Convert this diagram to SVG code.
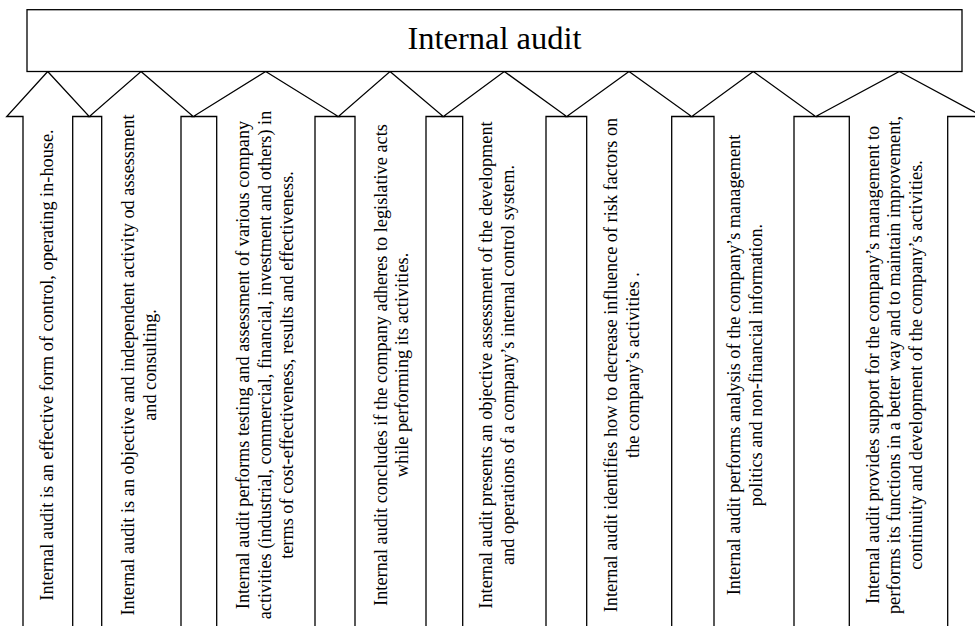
<svg xmlns="http://www.w3.org/2000/svg" width="975" height="626" viewBox="0 0 975 626">
<style>
.shape{fill:#fff;stroke:#000;stroke-width:1.3;stroke-linejoin:miter}
.t{font-family:"Liberation Serif","Times New Roman",serif;font-size:18.3px;fill:#000;text-anchor:middle}
.title{font-family:"Liberation Serif","Times New Roman",serif;font-size:32.5px;fill:#000;text-anchor:middle}
</style>
<rect width="975" height="626" fill="#fff"/>
<g id="arrow1">
<polygon class="shape" points="47.7,71.5 89.3,116.5 72.7,116.5 72.7,640 23,640 23,116.5 6.7,116.5"/>
<text class="t" transform="translate(53,365) rotate(-90)">Internal audit is an effective form of control, operating in-house.</text>
</g>
<g id="arrow2">
<polygon class="shape" points="141,71.5 193.3,116.5 181,116.5 181,640 101.7,640 101.7,116.5 89.3,116.5"/>
<text class="t" transform="translate(134,365) rotate(-90)"><tspan x="0" y="0">Internal audit is an objective and independent activity od assessment</tspan><tspan x="0" y="22">and consulting.</tspan></text>
</g>
<g id="arrow3">
<polygon class="shape" points="265.7,71.5 338.3,116.5 315,116.5 315,640 216.7,640 216.7,116.5 193.3,116.5"/>
<text class="t" transform="translate(248.5,365) rotate(-90)"><tspan x="0" y="0">Internal audit performs testing and assessment of various company</tspan><tspan x="0" y="22">activities (industrial, commercial, financial, investment and others) in</tspan><tspan x="0" y="44">terms of cost-effectiveness, results and effectiveness.</tspan></text>
</g>
<g id="arrow4">
<polygon class="shape" points="390,71.5 443.3,116.5 426,116.5 426,640 355,640 355,116.5 338.3,116.5"/>
<text class="t" transform="translate(386.5,365) rotate(-90)"><tspan x="0" y="0">Internal audit concludes if the company adheres to legislative acts</tspan><tspan x="0" y="21.5">while performing its activities.</tspan></text>
</g>
<g id="arrow5">
<polygon class="shape" points="504.3,71.5 566.7,116.5 546,116.5 546,640 462.7,640 462.7,116.5 443.3,116.5"/>
<text class="t" transform="translate(492,365) rotate(-90)"><tspan x="0" y="0">Internal audit presents an objective assessment of the development</tspan><tspan x="0" y="21.5">and operations of a company’s internal control system.</tspan></text>
</g>
<g id="arrow6">
<polygon class="shape" points="629,71.5 691.7,116.5 671.7,116.5 671.7,640 586.7,640 586.7,116.5 566.7,116.5"/>
<text class="t" transform="translate(616.5,365) rotate(-90)"><tspan x="0" y="0">Internal audit identifies how to decrease influence of risk factors on</tspan><tspan x="0" y="22">the company’s activities .</tspan></text>
</g>
<g id="arrow7">
<polygon class="shape" points="753.3,71.5 815.7,116.5 794,116.5 794,640 714,640 714,116.5 691.7,116.5"/>
<text class="t" transform="translate(740,365) rotate(-90)"><tspan x="0" y="0">Internal audit performs analysis of the company’s management</tspan><tspan x="0" y="21.5">politics and non-financial information.</tspan></text>
</g>
<g id="arrow8">
<polygon class="shape" points="899.3,71.5 983,116.5 947.7,116.5 947.7,640 849.3,640 849.3,116.5 815.7,116.5"/>
<text class="t" transform="translate(878.5,365) rotate(-90)"><tspan x="0" y="0">Internal audit provides support for the company’s management to</tspan><tspan x="0" y="21.5">performs its functions in a better way and to maintain improvement,</tspan><tspan x="0" y="43">continuity and development of the company’s activities.</tspan></text>
</g>
<g id="internal-audit">
<rect class="shape" x="27" y="9.7" width="935" height="61.8"/>
<text class="title" x="494.5" y="49.3">Internal audit</text>
</g>
</svg>
